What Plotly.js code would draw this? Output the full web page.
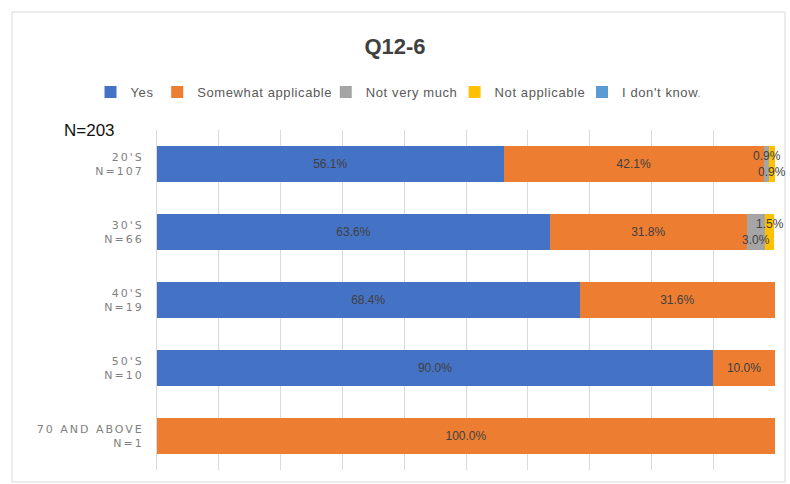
<!DOCTYPE html>
<html>
<head>
<meta charset="utf-8">
<script src="https://cdn.plot.ly/plotly-3.0.1.min.js"></script>
<style>
html,body{margin:0;padding:0;background:#fff;}
#chart .ytick text{letter-spacing:2px;}
#chart .legendtext{letter-spacing:0.6px;}
</style>
</head>
<body>
<div id="chart" style="width:790px;height:484px;"></div>
<script>
const categories = ["20'S<br>N=107", "30'S<br>N=66", "40'S<br>N=19", "50'S<br>N=10", "70 AND ABOVE<br>N=1"];
const seriesNames = ["Yes", "Somewhat applicable", "Not very much", "Not applicable", "I don't know."];
const yesVals = [56.1, 63.6, 68.4, 90.0, 0];
const somewhatVals = [42.1, 31.8, 31.6, 10.0, 100.0];
const notVeryMuchVals = [0.9, 3.0, 0, 0, 0];
const notApplicableVals = [0.9, 1.5, 0, 0, 0];
const dontKnowVals = [0, 0, 0, 0, 0];
const colors = ["#4472C4", "#ED7D31", "#A5A5A5", "#FFC000", "#5B9BD5"];

const allVals = [yesVals, somewhatVals, notVeryMuchVals, notApplicableVals, dontKnowVals];
const labelFont = {family: "'Liberation Sans', Arial, sans-serif", size: 12, color: "#404040"};

const traces = allVals.map((vals, i) => ({
  type: "bar",
  orientation: "h",
  name: seriesNames[i],
  y: categories,
  x: vals,
  marker: {color: colors[i]},
  text: vals.map(v => (v >= 5 ? v.toFixed(1) + "%" : "")),
  textposition: "inside",
  insidetextanchor: "middle",
  textfont: labelFont,
  constraintext: "none",
  hoverinfo: "x+name"
}));

// labels of thin segments: drawn at the segment centre, one raised and one lowered (like Excel)
const annotations = [];
categories.forEach((c, ci) => {
  let cum = 0;
  const small = [];
  allVals.forEach((vals, si) => {
    const v = vals[ci];
    if (v > 0 && v < 5) small.push({v: v, mid: cum + v / 2, si: si});
    cum += v;
  });
  if (small.length === 0) return;
  small.sort((a, b) => (a.v - b.v) || (a.si - b.si));
  small.forEach((s, k) => {
    annotations.push({
      x: s.mid, y: ci, xref: "x", yref: "y",
      text: s.v.toFixed(1) + "%",
      showarrow: false, xanchor: "center", yanchor: "middle",
      yshift: small.length > 1 ? (k === 0 ? 8 : -8) : 0,
      font: labelFont
    });
  });
});

annotations.push({
  x: (62 - 157) / 618, y: 1.0, xref: "paper", yref: "paper", xanchor: "left", yanchor: "middle",
  text: "N=203", showarrow: false,
  font: {family: "'Liberation Sans', Arial, sans-serif", size: 17, color: "#111"}
});

const W = 790, H = 484, ml = 157, mr = 15, mt = 130, mb = 14;
const pw = W - ml - mr, ph = H - mt - mb;
const px = x => (x - ml) / pw;
const py = y => 1 - (y - mt) / ph;

const layout = {
  width: W, height: H,
  margin: {l: ml, r: mr, t: mt, b: mb},
  paper_bgcolor: "#fff", plot_bgcolor: "#fff",
  barmode: "stack",
  bargap: 0.46,
  title: {
    text: "Q12-6", x: 0.5, xanchor: "center", y: 0.905, yanchor: "middle",
    font: {family: "'Liberation Sans', Arial, sans-serif", size: 22, color: "#404040", weight: "bold"}
  },
  showlegend: true,
  legend: {
    orientation: "h", x: 0.5, xanchor: "center", xref: "container",
    y: 0.81, yanchor: "middle", yref: "container",
    font: {family: "'Liberation Sans', Arial, sans-serif", size: 13, color: "#595959"},
    itemwidth: 30, traceorder: "normal"
  },
  xaxis: {
    range: [0, 100], dtick: 10, showticklabels: false,
    showgrid: true, gridcolor: "#D9D9D9", gridwidth: 1,
    zeroline: false, showline: false, fixedrange: true
  },
  yaxis: {
    autorange: "reversed", type: "category",
    showgrid: false, showline: true, linecolor: "#D9D9D9",
    ticks: "", ticklabelstandoff: 10,
    tickfont: {family: "'DejaVu Sans', sans-serif", size: 11, color: "#7F7F7F"},
    fixedrange: true
  },
  annotations: annotations,
  shapes: [{
    type: "rect", xref: "paper", yref: "paper",
    x0: px(12), x1: px(785), y0: py(482), y1: py(12),
    line: {color: "#D9D9D9", width: 1}, fillcolor: "rgba(0,0,0,0)", layer: "below"
  }]
};

Plotly.newPlot("chart", traces, layout, {displayModeBar: false, staticPlot: true});
</script>
</body>
</html>
